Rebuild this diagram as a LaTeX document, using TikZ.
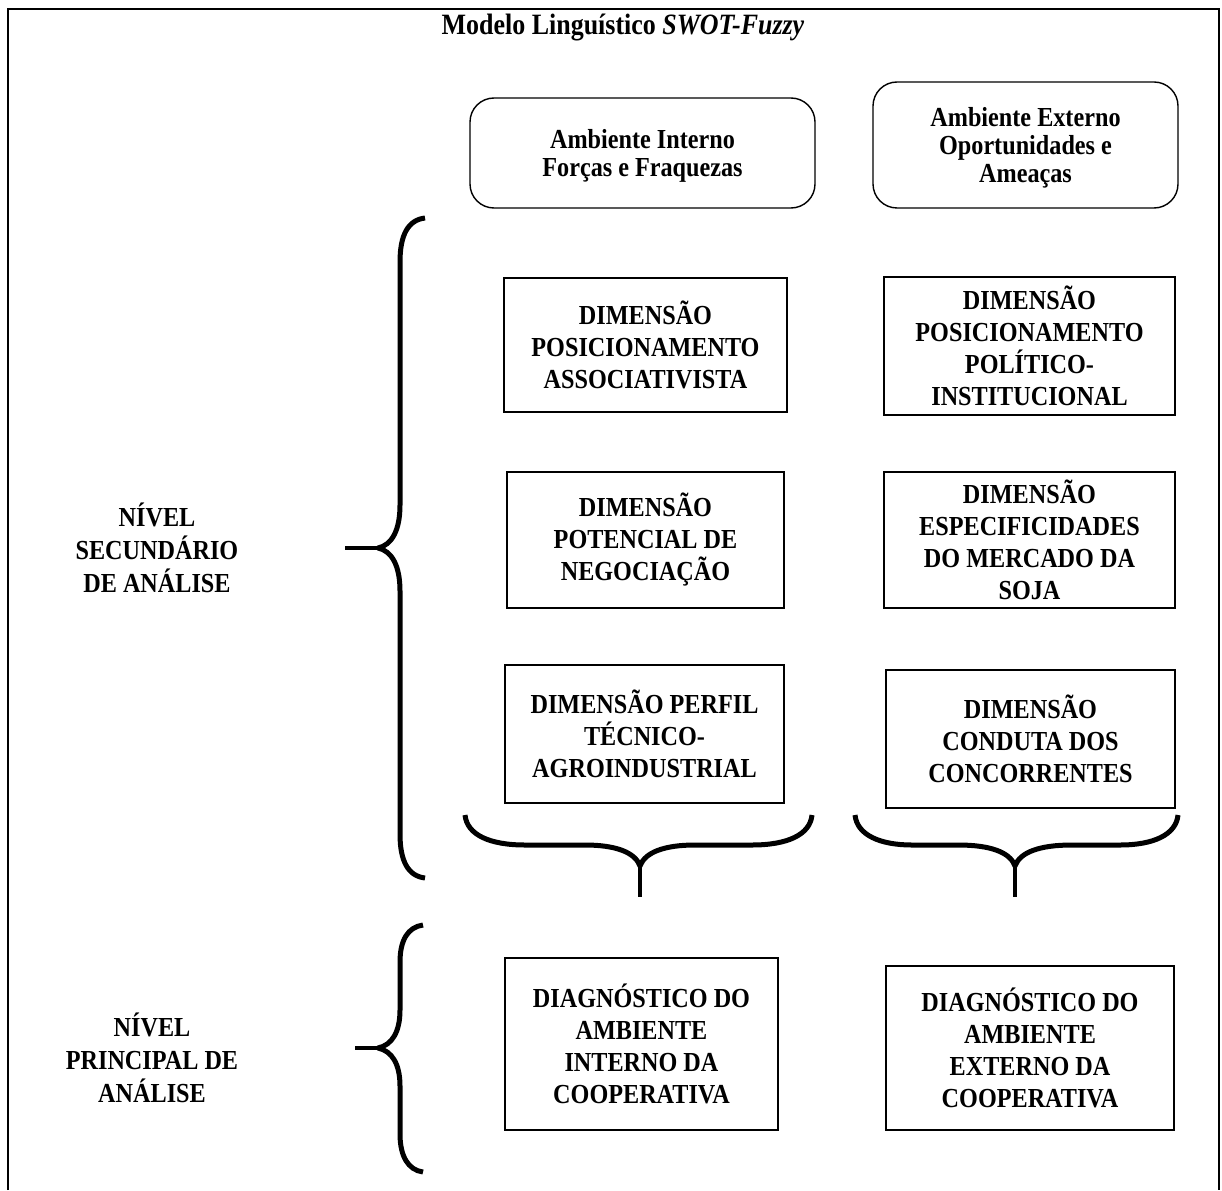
\documentclass[tikz,border=0pt]{standalone}
\usepackage{fontspec}
\setmainfont[FakeStretch=0.88]{Liberation Serif}
\begin{document}
\begin{tikzpicture}[x=1pt,y=-1pt,
  every node/.style={font=\fontsize{27.5}{32}\selectfont\bfseries, align=center, inner sep=0pt},
  titletext/.style={font=\fontsize{29.5}{32}\selectfont\bfseries},
  dimbox/.style={draw, line width=1.6pt},
  envbox/.style={draw, line width=1.4pt, rounded corners=24pt, text depth=0pt,
                 font=\fontsize{27.5}{28}\selectfont\bfseries},
  lvltext/.style={font=\fontsize{27.5}{33}\selectfont\bfseries},
  brace/.style={line width=5pt, line join=round},
  bracetip/.style={line width=3.5pt}]

\useasboundingbox (0,0) rectangle (1222,1190);

% outer frame, open at the bottom
\draw[line width=2.5pt] (8,1190) -- (8,9) -- (1219,9) -- (1219,1190);

% title
\node[titletext] (title) at (623,28) {Modelo Linguístico \textit{SWOT-Fuzzy}};

% environment headers
\node[envbox, minimum width=345pt, minimum height=110pt] (intenv) at (642.5,153)
  {Ambiente Interno\\Forças e Fraquezas};
\node[envbox, minimum width=305pt, minimum height=126pt] (extenv) at (1025.5,145)
  {Ambiente Externo\\Oportunidades e\\Ameaças};

% secondary level: dimensions
\node[dimbox, minimum width=283pt, minimum height=134pt] (d1) at (645.5,345)
  {DIMENSÃO\\POSICIONAMENTO\\ASSOCIATIVISTA};
\node[dimbox, minimum width=291pt, minimum height=138pt] (e1) at (1029.5,346)
  {DIMENSÃO\\POSICIONAMENTO\\POLÍTICO-\\INSTITUCIONAL};
\node[dimbox, minimum width=277pt, minimum height=136pt] (d2) at (645.5,540)
  {DIMENSÃO\\POTENCIAL DE\\NEGOCIAÇÃO};
\node[dimbox, minimum width=291pt, minimum height=136pt] (e2) at (1029.5,540)
  {DIMENSÃO\\ESPECIFICIDADES\\DO MERCADO DA\\SOJA};
\node[dimbox, minimum width=279pt, minimum height=138pt] (d3) at (644.5,734)
  {DIMENSÃO PERFIL\\TÉCNICO-\\AGROINDUSTRIAL};
\node[dimbox, minimum width=289pt, minimum height=138pt] (e3) at (1030.5,739)
  {DIMENSÃO\\CONDUTA DOS\\CONCORRENTES};

% principal level: diagnostics
\node[dimbox, minimum width=273pt, minimum height=172pt] (dgi) at (641.5,1044)
  {DIAGNÓSTICO DO\\AMBIENTE\\INTERNO DA\\COOPERATIVA};
\node[dimbox, minimum width=288pt, minimum height=164pt] (dge) at (1030,1048)
  {DIAGNÓSTICO DO\\AMBIENTE\\EXTERNO DA\\COOPERATIVA};

% level labels
\node[lvltext] (sec) at (157,548) {NÍVEL\\SECUNDÁRIO\\DE ANÁLISE};
\node[lvltext] (prin) at (152,1058) {NÍVEL\\PRINCIPAL DE\\ANÁLISE};

% large brace of the secondary level
\draw[brace] (425,218) .. controls (408,220) and (400,235) .. (400,262) -- (400,505)
  .. controls (400,530) and (392,545) .. (378,548)
  .. controls (392,551) and (400,566) .. (400,591) -- (400,834)
  .. controls (400,861) and (408,876) .. (425,878);
\draw[bracetip] (378,548) -- (345,548);

% brace of the principal level
\draw[brace] (423,925) .. controls (408,927) and (400,940) .. (400,962) -- (400,1010)
  .. controls (400,1032) and (392,1045) .. (378,1048)
  .. controls (392,1051) and (400,1064) .. (400,1086) -- (400,1134)
  .. controls (400,1156) and (408,1170) .. (423,1172);
\draw[bracetip] (378,1048) -- (355,1048);

% horizontal braces under the two columns
\draw[brace] (465,815) .. controls (467,835) and (490,845) .. (525,845) -- (585,845)
  .. controls (615,845) and (635,852) .. (640,866)
  .. controls (645,852) and (665,845) .. (695,845) -- (752,845)
  .. controls (787,845) and (810,835) .. (812,815);
\draw[bracetip] (640,866) -- (640,897);
\draw[brace] (855,815) .. controls (857,835) and (880,845) .. (912,845) -- (958,845)
  .. controls (990,845) and (1010,852) .. (1015,866)
  .. controls (1020,852) and (1040,845) .. (1072,845) -- (1120,845)
  .. controls (1153,845) and (1176,835) .. (1178,815);
\draw[bracetip] (1015,866) -- (1015,897);

\end{tikzpicture}
\end{document}
